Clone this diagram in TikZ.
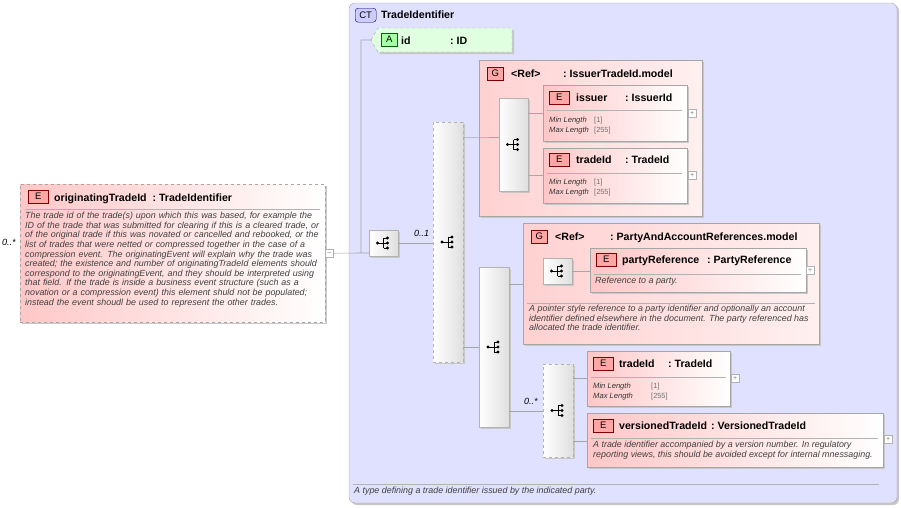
\documentclass[tikz,border=0pt]{standalone}
\usepackage{fontspec}
\setmainfont{Liberation Sans}
\begin{document}
\begin{tikzpicture}[x=1pt,y=-1pt,
  shd/.style={preaction={fill=black!22,transform canvas={shift={(2pt,-2pt)}}}},
  bx/.style={anchor=north west,inner sep=0,outer sep=0,draw=gray!70},
  elem/.style={bx,shd,left color=red!22,right color=white},
  grp/.style={bx,shd,left color=red!18,right color=red!6},
  seq/.style={bx,shd,left color=white,right color=gray!25,draw=gray!60},
  chc/.style={seq,dashed},
  badge/.style={anchor=north west,inner sep=0,minimum width=20pt,minimum height=13pt,fill=red!35,draw=red!50!black,font=\fontsize{9.5}{10}\selectfont},
  ttl/.style={anchor=base west,inner sep=0,font=\fontsize{10.6}{12}\selectfont\bfseries},
  dsc/.style={anchor=north west,inner sep=0,align=left,font=\fontsize{8.9}{9.6}\selectfont\itshape,text=black!75},
  fac/.style={anchor=base west,inner sep=0,font=\fontsize{7.6}{9}\selectfont\itshape,text=black!80},
  fv/.style={anchor=base west,inner sep=0,font=\fontsize{7.4}{9}\selectfont,text=black!55},
  card/.style={anchor=base west,inner sep=0,font=\fontsize{9}{10}\selectfont\itshape},
  pl/.style={anchor=north west,inner sep=0,minimum size=8pt,draw=gray!60,fill=white,font=\fontsize{7}{7}\selectfont,text=gray},
  ln/.style={draw=gray!70,line width=0.6pt},
  sep/.style={draw=gray!60,line width=0.6pt},
  icon/.pic={\fill (-6,0) circle (1.7);\draw[line width=0.9pt] (-6,0)--(0,0) (0,-5)--(0,5) (0,-5)--(3.5,-5) (0,5)--(3.5,5) (0,0)--(3.5,0);
    \fill (4,-5) circle (1.7) (4,0) circle (1.7) (4,5) circle (1.7);}
]
\useasboundingbox (0,0) rectangle (901,507);
% CT box
\node[bx,shd,rounded corners=6pt,fill=blue!12,draw=gray!70,minimum width=548pt,minimum height=500pt] (ct) at (349,3) {};
\node[anchor=north west,inner sep=0,minimum width=21pt,minimum height=14pt,rounded corners=3pt,fill=blue!20,draw=blue!40!black,font=\fontsize{9.5}{10}\selectfont] (ctb) at (355,8) {CT};
\node[ttl] (ctt) at (381,18) {TradeIdentifier};
\draw[sep] (353,484)--(879,484);
\node[dsc] (ctd) at (354,487) {A type defining a trade identifier issued by the indicated party.};
% left element
\node[elem,dashed,minimum width=305pt,minimum height=138pt] (ot) at (20,184) {};
\node[badge] (otb) at (28,190) {E};
\node[ttl] (ott) at (54,201) {originatingTradeId\ \ :\ TradeIdentifier};
\draw[sep] (25,209)--(320,209);
\node[dsc,text width=300pt] (otd) at (25,212) {The trade id of the trade(s) upon which this was based, for example the\\ID of the trade that was submitted for clearing if this is a cleared trade, or\\of the original trade if this was novated or cancelled and rebooked, or the\\list of trades that were netted or compressed together in the case of a\\compression event. The originatingEvent will explain why the trade was\\created; the existence and number of originatingTradeId elements should\\correspond to the originatingEvent, and they should be interpreted using\\that field. If the trade is inside a business event structure (such as a\\novation or a compression event) this element shuld not be populated;\\instead the event shoudl be used to represent the other trades.};
\node[card] (otc) at (2,245) {0..*};
\node[pl] (otm) at (325,249) {--};
% attribute
\coordinate (aid) at (371,40);
\fill[green!12,draw=gray!70,dashed,shd] (aid)--(378,28)--(512,28)--(512,52)--(378,52)--cycle;
\node[badge,fill=green!35,draw=green!40!black,minimum width=16pt,minimum height=13pt] (ab) at (381,33) {A};
\node[ttl] (at1) at (401,44) {id};
\node[ttl] (at2) at (450,44) {:\ ID};
% top seq
\node[seq,minimum width=29pt,minimum height=26pt] (s1) at (369,230) {};
\pic at (s1.center) {icon};
\node[card] (c1) at (414,236) {0..1};
\node[chc,minimum width=30pt,minimum height=240pt] (ch1) at (433,122) {};
\pic at (ch1.center) {icon};
\coordinate (j) at (361,253);
\draw[ln] (otm.east)--(j) (j)--(s1.west|-j) (j)--(361,40)--(aid);
\draw[ln] (s1.east)--(ch1.west|-s1.east);
% group 1
\node[grp,minimum width=223pt,minimum height=156pt] (g1) at (479,60) {};
\node[badge,minimum width=16pt] (g1b) at (487,67) {G};
\node[ttl] (g1t) at (511,77) {<Ref>};
\node[ttl] (g1u) at (563,77) {:\ IssuerTradeId.model};
\node[seq,minimum width=29pt,minimum height=93pt] (s2) at (499,98) {};
\pic at (s2.center) {icon};
\draw[ln] (ch1.east|-0,137)--(479,137)--(s2.west|-0,137);
% issuer
\node[elem,minimum width=144pt,minimum height=56pt] (is) at (543,85) {};
\node[badge] (isb) at (549,91) {E};
\node[ttl] (ist) at (576,101) {issuer};
\node[ttl] (isu) at (625,101) {:\ IssuerId};
\draw[sep] (547,110)--(682,110);
\node[fac] (isf1) at (549,122) {Min Length}; \node[fv] (isv1) at (594,122) {[1]};
\node[fac] (isf2) at (549,132) {Max Length}; \node[fv] (isv2) at (594,132) {[255]};
\node[pl] (isp) at (688,109) {+};
\node[elem,minimum width=144pt,minimum height=55pt] (t1) at (543,148) {};
\node[badge] (t1b) at (549,153) {E};
\node[ttl] (t1t) at (576,163) {tradeId};
\node[ttl] (t1u) at (625,163) {:\ TradeId};
\draw[sep] (547,173)--(682,173);
\node[fac] (t1f1) at (549,184) {Min Length}; \node[fv] (t1v1) at (594,184) {[1]};
\node[fac] (t1f2) at (549,194) {Max Length}; \node[fv] (t1v2) at (594,194) {[255]};
\node[pl] (t1p) at (688,171) {+};
\draw[ln] (s2.east|-0,113)--(is.west|-0,113);
\draw[ln] (s2.east|-0,175)--(t1.west|-0,175);
% second seq
\node[seq,minimum width=30pt,minimum height=160pt] (s3) at (479,267) {};
\pic at (s3.center) {icon};
\draw[ln] (ch1.east|-s3.west)--(s3.west);
% group 2
\node[grp,minimum width=296pt,minimum height=121pt] (g2) at (523,223) {};
\node[badge,minimum width=16pt] (g2b) at (531,230) {G};
\node[ttl] (g2t) at (555,240) {<Ref>};
\node[ttl] (g2u) at (610,240) {:\ PartyAndAccountReferences.model};
\node[seq,minimum width=29pt,minimum height=26pt] (s4) at (543,258) {};
\pic at (s4.center) {icon};
\node[elem,minimum width=216pt,minimum height=44pt] (pr) at (590,248) {};
\node[badge] (prb) at (596,253) {E};
\node[ttl] (prt) at (622,263) {partyReference};
\node[ttl] (pru) at (707,263) {:\ PartyReference};
\draw[sep] (594,274)--(801,274);
\node[dsc] (prd) at (595,277) {Reference to a party.};
\node[pl] (prp) at (806,266) {+};
\draw[ln] (s4.east)--(pr.west|-s4.east);
\draw[sep] (527,303)--(815,303);
\node[dsc] (g2d) at (529,305) {A pointer style reference to a party identifier and optionally an account\\identifier defined elsewhere in the document. The party referenced has\\allocated the trade identifier.};
\draw[ln] (s3.east|-0,284)--(g2.west|-0,284);
% choice 2
\node[chc,minimum width=30pt,minimum height=93pt] (ch2) at (543,364) {};
\pic at (ch2.center) {icon};
\node[card] (c2) at (524,404) {0..*};
\draw[ln] (s3.east|-0,411)--(ch2.west|-0,411);
\node[elem,minimum width=143pt,minimum height=55pt] (t2) at (587,351) {};
\node[badge] (t2b) at (593,357) {E};
\node[ttl] (t2t) at (619,367) {tradeId};
\node[ttl] (t2u) at (668,367) {:\ TradeId};
\draw[sep] (591,377)--(726,377);
\node[fac] (t2f1) at (593,388) {Min Length}; \node[fv] (t2v1) at (651,388) {[1]};
\node[fac] (t2f2) at (593,398) {Max Length}; \node[fv] (t2v2) at (651,398) {[255]};
\node[pl] (t2p) at (731,374) {+};
\node[elem,minimum width=296pt,minimum height=54pt] (vt) at (587,413) {};
\node[badge] (vtb) at (593,419) {E};
\node[ttl] (vtt) at (619,429) {versionedTradeId};
\node[ttl] (vtu) at (711,429) {:\ VersionedTradeId};
\draw[sep] (591,438)--(878,438);
\node[dsc] (vtd) at (593,441) {A trade identifier accompanied by a version number. In regulatory\\reporting views, this should be avoided except for internal mnessaging.};
\node[pl] (vtp) at (884,435) {+};
\draw[ln] (ch2.east|-0,378)--(t2.west|-0,378);
\draw[ln] (ch2.east|-0,441)--(vt.west|-0,441);
\end{tikzpicture}
\end{document}
